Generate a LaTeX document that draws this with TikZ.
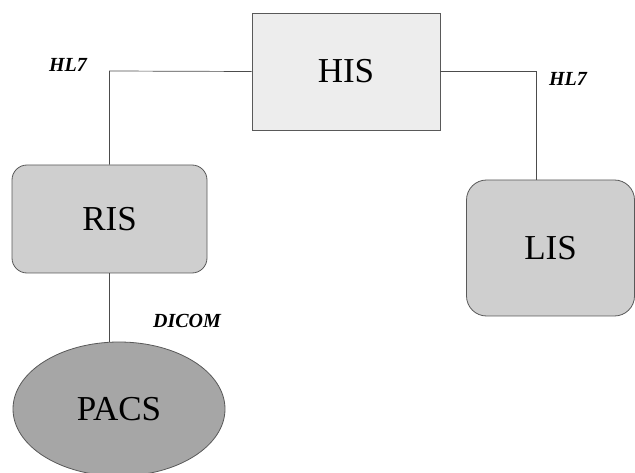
\documentclass[tikz,border=0pt]{standalone}
\usepackage{fontspec}
\setmainfont{Liberation Serif}
\usetikzlibrary{shapes.geometric}

\begin{document}
\begin{tikzpicture}[x=1pt, y=-1pt,
		sys/.style={draw=black!65, line width=0.8pt, font=\fontsize{35}{40}\selectfont, inner sep=0pt},
		link/.style={draw=black!70, line width=0.7pt},
		proto/.style={font=\fontsize{20}{22}\selectfont\bfseries\itshape}]
			\useasboundingbox (0, 0) rectangle (635, 473);
			\node[sys, fill=black!7, minimum width=188, minimum height=117] (his) at (346, 71.5) {HIS};
			\node[sys, fill=black!19, rounded corners=15, minimum width=195, minimum height=108] (ris) at (109.5, 219) {RIS};
			\node[sys, fill=black!19, rounded corners=20, minimum width=168, minimum height=136] (lis) at (550.5, 248) {LIS};
			\node[sys, fill=black!35, ellipse, minimum width=212, minimum height=134] (pacs) at (119, 409) {PACS};
			\coordinate (cl) at (109.5, 71);
			\coordinate (cr) at (536, 71.5);
			\draw[link] (his.west) -- (cl) -- (ris.north);
			\draw[link] (his.east) -- (cr) -- (cr |- lis.north);
			\draw[link] (ris.south) -- (ris.south |- pacs.north);
			\node[proto] (hl7l) at (68, 65) {HL7};
			\node[proto] (hl7r) at (568, 79) {HL7};
			\node[proto] (dicom) at (187, 321) {DICOM};
		\end{tikzpicture}
\end{document}
